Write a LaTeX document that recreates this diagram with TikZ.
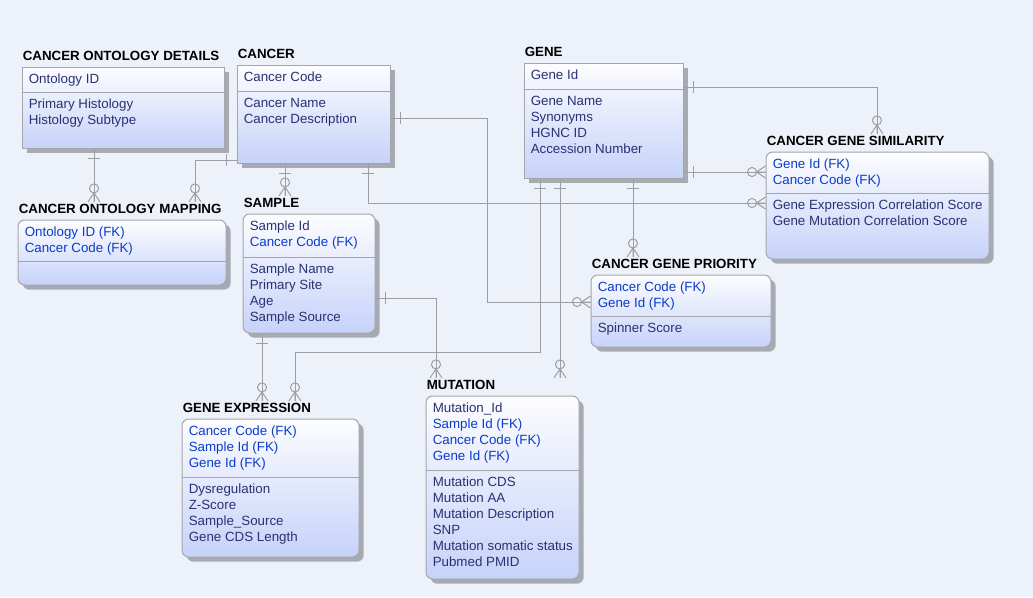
\documentclass[tikz,border=0pt]{standalone}
\usepackage{fontspec}
\setmainfont{Liberation Sans}
\usetikzlibrary{fit,shadows}

\definecolor{bgcol}{RGB}{237,242,250}
\definecolor{boxtop}{RGB}{253,253,255}
\definecolor{boxbot}{RGB}{198,210,249}
\definecolor{edgecol}{RGB}{165,166,172}
\definecolor{shadecol}{RGB}{168,170,178}
\definecolor{relcol}{RGB}{158,158,160}
\definecolor{pkcol}{RGB}{40,50,115}
\definecolor{fkcol}{RGB}{10,60,200}

\newcommand\fk[1]{\textcolor{fkcol}{#1}}

\tikzset{
  entity/.style={draw=edgecol, line width=0.75pt, top color=boxtop, bottom color=boxbot,
    inner sep=0pt, drop shadow={shadow xshift=3.5pt, shadow yshift=-3.5pt, fill=shadecol, opacity=1}},
  depentity/.style={entity, rounded corners=5pt},
  enttitle/.style={font=\bfseries\fontsize{10}{12}\selectfont, inner sep=1.5pt, anchor=base west},
  attr/.style={font=\fontsize{10}{12}\selectfont, text=pkcol, inner sep=0pt, anchor=base west},
  rel/.style={draw=relcol, line width=0.75pt},
  one/.pic={\draw[rel] (10,-6) -- (10,6);},
  manyopt/.pic={\draw[rel] (0,-6) -- (9,0) -- (0,6) (0,0) -- (9,0);
    \draw[rel] (13.5,0) circle[radius=3.4pt];}
}

% #1 style, #2 name, #3 top left, #4 bottom right, #5 divider, #6 title, #7 keys, #8 fields
\newcommand\erentity[8]{
  \node[#1, fit={(#3) (#4)}] (#2) {};
  \node[enttitle] (#2-t) at ([shift={(-1,-6)}]#2.north west) {#6};
  \coordinate (#2-d) at (#2.west |- 0,#5);
  \draw[draw=edgecol, line width=0.75pt] (#2-d) -- (#2.east |- #2-d);
  \foreach \r [count=\i] in {#7}
    \node[attr] (#2-k\i) at ([shift={(7,{16.5+16*(\i-1)})}]#2.north west) {\r};
  \foreach \r [count=\i] in {#8}
    \node[attr] (#2-a\i) at ([shift={(7,{16.5+16*(\i-1)})}]#2-d) {\r};
}

\begin{document}
\begin{tikzpicture}[x=0.75pt,y=-0.75pt]
  \useasboundingbox (0,0) rectangle (1033,597);
  \fill[bgcol] (0,0) rectangle (1033,597);

  \erentity{entity}{ontd}{22,67}{224,148}{92}{CANCER ONTOLOGY DETAILS}{Ontology ID}{Primary Histology,Histology Subtype}
  \erentity{entity}{cancer}{237,65}{390,163}{91}{CANCER}{Cancer Code}{Cancer Name,Cancer Description}
  \erentity{entity}{gene}{524,63}{683,178}{89}{GENE}{Gene Id}{Gene Name,Synonyms,HGNC ID,Accession Number}
  \erentity{depentity}{cgsim}{766,152}{989,259}{193}{CANCER GENE SIMILARITY}{\fk{Gene Id (FK)},\fk{Cancer Code (FK)}}{Gene Expression Correlation Score,Gene Mutation Correlation Score}
  \erentity{depentity}{ontm}{18,220}{226,285}{261}{CANCER ONTOLOGY MAPPING}{\fk{Ontology ID (FK)},\fk{Cancer Code (FK)}}{}
  \erentity{depentity}{sample}{243,214}{375,333}{257}{SAMPLE}{Sample Id,\fk{Cancer Code (FK)}}{Sample Name,Primary Site,Age,Sample Source}
  \erentity{depentity}{cgprio}{591,275}{771,347}{316}{CANCER GENE PRIORITY}{\fk{Cancer Code (FK)},\fk{Gene Id (FK)}}{Spinner Score}
  \erentity{depentity}{gexp}{182,419}{359,557}{477}{GENE EXPRESSION}{\fk{Cancer Code (FK)},\fk{Sample Id (FK)},\fk{Gene Id (FK)}}{Dysregulation,Z-Score,Sample\_Source,Gene CDS Length}
  \erentity{depentity}{mut}{426,396}{579,579}{470}{MUTATION}{Mutation\_Id,\fk{Sample Id (FK)},\fk{Cancer Code (FK)},\fk{Gene Id (FK)}}{Mutation CDS,Mutation AA,Mutation Description,SNP,Mutation somatic status,Pubmed PMID}

  \draw[rel] (94,0 |- ontd.south) pic[rotate=-90]{one} -- (94,0 |- ontm-t.north) pic[rotate=90]{manyopt};
  \draw[rel] (cancer.west |- 0,160) pic[rotate=180]{one} -| (195,0 |- ontm-t.north) pic[rotate=90]{manyopt};
  \draw[rel] (285,0 |- cancer.south) pic[rotate=-90]{one} -- (285,0 |- sample-t.north) pic[rotate=90]{manyopt};
  \draw[rel] (368,0 |- cancer.south) pic[rotate=-90]{one} |- (cgsim.west |- 0,203) pic[rotate=180]{manyopt};
  \draw[rel] (cancer.east |- 0,118) pic{one} -| (487,302) -- (cgprio.west |- 0,302) pic[rotate=180]{manyopt};
  \draw[rel] (gene.east |- 0,87) pic{one} -| (877,0 |- cgsim-t.north) pic[rotate=90]{manyopt};
  \draw[rel] (gene.east |- 0,172) pic{one} -- (cgsim.west |- 0,172) pic[rotate=180]{manyopt};
  \draw[rel] (633,0 |- gene.south) pic[rotate=-90]{one} -- (633,0 |- cgprio-t.north) pic[rotate=90]{manyopt};
  \draw[rel] (540,0 |- gene.south) pic[rotate=-90]{one} |- (295,352) -- (295,0 |- gexp-t.north) pic[rotate=90]{manyopt};
  \draw[rel] (560,0 |- gene.south) pic[rotate=-90]{one} -- (560,0 |- mut-t.north) pic[rotate=90]{manyopt};
  \draw[rel] (sample.east |- 0,298) pic{one} -| (436,0 |- mut-t.north) pic[rotate=90]{manyopt};
  \draw[rel] (262,0 |- sample.south) pic[rotate=-90]{one} -- (262,0 |- gexp-t.north) pic[rotate=90]{manyopt};
\end{tikzpicture}
\end{document}
